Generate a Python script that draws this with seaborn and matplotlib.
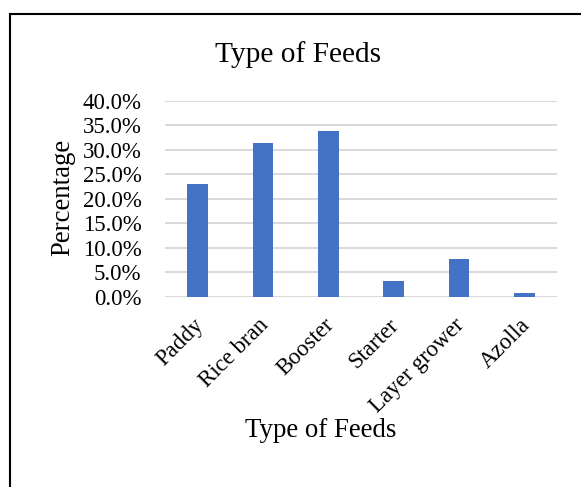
import matplotlib
matplotlib.use("Agg")
import matplotlib.pyplot as plt
from matplotlib.patches import Rectangle
from matplotlib.ticker import FuncFormatter
from matplotlib.transforms import ScaledTranslation
import seaborn as sns
import pandas as pd

# Share of each feed type used (percent)
feed_types = ["Paddy", "Rice bran", "Booster", "Starter", "Layer grower", "Azolla"]
percentages = [22.9, 31.3, 33.9, 3.3, 7.6, 0.8]
y_ticks = [0, 5, 10, 15, 20, 25, 30, 35, 40]

sns.set_theme(style="white")
plt.rcParams["font.family"] = ["Liberation Serif", "DejaVu Serif"]

df = pd.DataFrame({"feed": feed_types, "pct": percentages})

W, H = 581, 487
fig = plt.figure(figsize=(W / 100, H / 100), dpi=100)
fig.patch.set_facecolor("white")

# plot area in pixel terms
left, right, top, bottom = 165, 557, 100.7, 296.7
ax = fig.add_axes([left / W, 1 - bottom / H, (right - left) / W, (bottom - top) / H])

sns.barplot(data=df, x="feed", y="pct", color="#4472C4", width=0.315,
            saturation=1, ax=ax, edgecolor="#4472C4", linewidth=0)

ax.set_ylim(0, 40)
ax.set_yticks(y_ticks)
ax.yaxis.set_major_formatter(FuncFormatter(lambda v, _: f"{v:.1f}%"))
ax.set_xlim(-0.5, len(feed_types) - 0.5)

ax.set_axisbelow(True)
ax.yaxis.grid(True, color="#D9D9D9", linewidth=1.4)
for s in ax.spines.values():
    s.set_visible(False)

ax.tick_params(axis="y", length=0, pad=17, labelsize=16.5, labelcolor="black")
ax.tick_params(axis="x", length=0, pad=10, labelsize=16.5, labelcolor="black")
shift = ScaledTranslation(-5 / 100, -4 / 100, fig.dpi_scale_trans)
for lbl in ax.get_xticklabels():
    lbl.set_rotation(45)
    lbl.set_ha("right")
    lbl.set_rotation_mode("anchor")
    lbl.set_transform(lbl.get_transform() + shift)
ax.set_xlabel("")
ax.set_ylabel("")

fig.text(298 / W, 1 - 61.7 / H, "Type of Feeds", ha="center", va="baseline",
         fontsize=21.2, color="black")
fig.text(321 / W, 1 - 436.7 / H, "Type of Feeds", ha="center", va="baseline",
         fontsize=19.4, color="black")
fig.text(62.5 / W, 1 - 197.5 / H, "Percentage", ha="center", va="center",
         rotation=90, fontsize=19.3, color="black")

# chart border
fig.patches.append(Rectangle((9.5 / W, -0.1), (590 - 9.5) / W, 1 - 13.5 / H + 0.1,
                             transform=fig.transFigure, fill=False,
                             edgecolor="black", linewidth=1.5, clip_on=False))

fig.savefig("out.png", dpi=100)
